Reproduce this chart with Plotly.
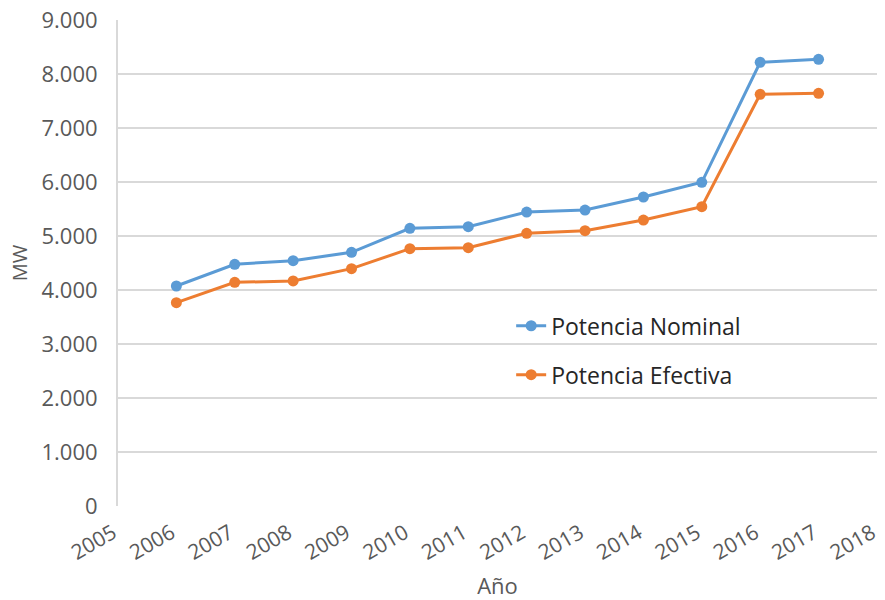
import plotly.graph_objects as go

# Installed capacity by year (MW)
years = [2006, 2007, 2008, 2009, 2010, 2011, 2012, 2013, 2014, 2015, 2016, 2017]
potencia_nominal = [4074, 4476, 4543, 4698, 5142, 5172, 5444, 5481, 5722, 5994, 8217, 8272]
potencia_efectiva = [3765, 4142, 4167, 4395, 4765, 4784, 5050, 5099, 5296, 5543, 7624, 7643]

x_ticks = list(range(2005, 2019))
y_ticks = list(range(0, 9001, 1000))
y_tick_text = ["0"] + [f"{v // 1000}.000" for v in y_ticks[1:]]

BLUE = "#5B9BD5"
ORANGE = "#ED7D31"
GRID = "#D9D9D9"
TEXT = "#595959"
FONT = "Open Sans"

fig = go.Figure()
fig.add_trace(go.Scatter(
    x=years, y=potencia_nominal, name="Potencia Nominal",
    mode="lines+markers", legendgroup="a",
    line=dict(color=BLUE, width=3),
    marker=dict(color=BLUE, size=11),
))
fig.add_trace(go.Scatter(
    x=years, y=potencia_efectiva, name="Potencia Efectiva",
    mode="lines+markers", legendgroup="b",
    line=dict(color=ORANGE, width=3),
    marker=dict(color=ORANGE, size=11),
))

fig.update_layout(
    width=885, height=600,
    margin=dict(l=118, r=8, t=20, b=94),
    paper_bgcolor="white", plot_bgcolor="white",
    font=dict(family=FONT, color=TEXT, size=21),
    legend=dict(
        x=0.518, y=0.415, xanchor="left", yanchor="top",
        bgcolor="rgba(0,0,0,0)",
        font=dict(family=FONT, size=23, color="#262626"),
        tracegroupgap=16,
    ),
    xaxis=dict(
        range=[2005, 2018.001], tickvals=x_ticks, ticktext=[str(v) for v in x_ticks],
        tickangle=-30, showgrid=False, zeroline=False,
        showline=False, ticks="", ticklabelstandoff=10, ticklabelshift=-5,
        ticklabeloverflow="allow", automargin=False,
        tickfont=dict(family=FONT, size=21, color=TEXT),
        title=dict(text="Año", font=dict(family=FONT, size=22, color=TEXT), standoff=18),
    ),
    yaxis=dict(
        range=[0, 9000], tickvals=y_ticks, ticktext=y_tick_text,
        showgrid=True, gridcolor=GRID, gridwidth=2,
        zeroline=False, showline=True, linecolor=GRID, linewidth=2,
        ticks="", ticklen=0, ticklabelstandoff=14, automargin=False,
        tickfont=dict(family=FONT, size=22, color=TEXT),
        title=dict(text="MW", font=dict(family=FONT, size=20, color=TEXT), standoff=8),
    ),
)

fig.write_html("out.html")
